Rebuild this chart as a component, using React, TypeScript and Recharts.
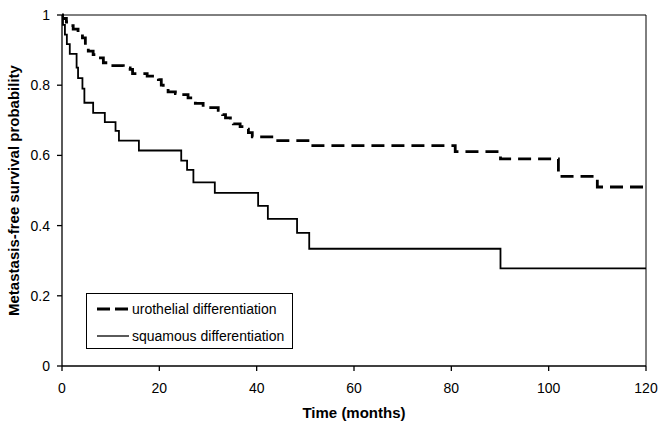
import { LineChart, Line, XAxis, YAxis, ReferenceLine, Legend } from 'recharts'

const FONT = '"Liberation Sans", Arial, sans-serif'

// Kaplan-Meier steps (months, survival)
const urothelialMonths = [
  0, 0.1, 0.9, 1.5, 2.3, 3.3, 4.2, 4.8, 5.4, 6.4,
  7.9, 8.5, 9.5, 12.6, 14.0, 14.5, 17.5, 19.8, 20.4, 20.8,
  21.8, 23.3, 24.3, 25.9, 26.8, 27.4, 29.0, 32.1, 33.0, 33.6,
  34.6, 35.2, 36.6, 37.7, 38.3, 39.1, 43.6, 51.0, 80.8, 90.1,
  102.0, 110.0, 120,
]
const urothelialSurvival = [
  1, 0.99, 0.98, 0.97, 0.96, 0.95, 0.935, 0.915, 0.897, 0.887,
  0.878, 0.864, 0.856, 0.849, 0.845, 0.833, 0.826, 0.816, 0.8, 0.79,
  0.781, 0.776, 0.773, 0.764, 0.755, 0.748, 0.736, 0.728, 0.716, 0.707,
  0.696, 0.69, 0.682, 0.675, 0.665, 0.653, 0.642, 0.628, 0.611, 0.59,
  0.54, 0.51, 0.51,
]

const squamousMonths = [
  0, 0.2, 0.6, 1.0, 1.6, 3.0, 3.3, 4.2, 4.6, 6.4,
  8.8, 11.0, 11.7, 15.8, 24.5, 25.7, 27.0, 31.4, 40.3, 42.3,
  48.3, 50.8, 90.1, 120,
]
const squamousSurvival = [
  1, 0.972, 0.944, 0.917, 0.889, 0.85, 0.82, 0.79, 0.75, 0.721,
  0.695, 0.67, 0.642, 0.614, 0.585, 0.559, 0.523, 0.493, 0.456, 0.419,
  0.379, 0.334, 0.278, 0.278,
]

const xTicks = [0, 20, 40, 60, 80, 100, 120]
const yTicks = [0, 0.2, 0.4, 0.6, 0.8, 1]

const urothelial = urothelialMonths.map((t, i) => ({ t, s: urothelialSurvival[i] }))
const squamous = squamousMonths.map((t, i) => ({ t, s: squamousSurvival[i] }))

const legendItems = [
  { name: 'urothelial differentiation', width: 3, dash: '13 5' },
  { name: 'squamous differentiation', width: 1.3, dash: undefined },
]

function KmLegend() {
  return (
    <div style={{
      width: 207, height: 56, border: '1px solid #000', background: '#fff',
      boxSizing: 'border-box', position: 'relative', fontFamily: FONT, fontSize: 14, color: '#000',
    }}>
      {legendItems.map((item, i) => (
        <div key={item.name} style={{ position: 'absolute', left: 10, top: 6 + i * 27, height: 18, display: 'flex', alignItems: 'center', whiteSpace: 'nowrap' }}>
          <svg width={32} height={18}>
            <line x1={0} x2={32} y1={9} y2={9} stroke="#000" strokeWidth={item.width} strokeDasharray={item.dash} />
          </svg>
          <span style={{ marginLeft: 3 }}>{item.name}</span>
        </div>
      ))}
    </div>
  )
}

export default function App() {
  const tick = { fill: '#000', fontSize: 14, fontFamily: FONT }
  return (
    <div style={{ position: 'absolute', left: 0, top: 0, background: '#fff' }}>
      <LineChart width={658} height={423} margin={{ top: 15, right: 12, bottom: 0, left: 0 }}>
        <XAxis
          type="number"
          dataKey="t"
          domain={[0, 120]}
          ticks={xTicks}
          allowDataOverflow
          height={57}
          tick={tick}
          tickSize={5}
          tickMargin={12}
          stroke="#000"
          strokeWidth={1.3}
          label={{ value: 'Time (months)', position: 'insideBottom', offset: 5, fill: '#000', fontSize: 15, fontWeight: 'bold', fontFamily: FONT }}
        />
        <YAxis
          type="number"
          domain={[0, 1]}
          ticks={yTicks}
          width={62}
          tick={tick}
          tickSize={5}
          tickMargin={7}
          stroke="#000"
          strokeWidth={1.3}
          label={{ value: 'Metastasis-free survival probability', angle: -90, position: 'insideLeft', offset: 14, fill: '#000', fontSize: 15, fontWeight: 'bold', fontFamily: FONT, style: { textAnchor: 'middle' } }}
        />
        <ReferenceLine y={1} stroke="#000" strokeWidth={1} />
        <ReferenceLine x={120} stroke="#000" strokeWidth={1} />
        <Line
          data={urothelial}
          dataKey="s"
          type="stepAfter"
          stroke="#000"
          strokeWidth={2.8}
          strokeDasharray="13 7"
          dot={false}
          activeDot={false}
          isAnimationActive={false}
        />
        <Line
          data={squamous}
          dataKey="s"
          type="stepAfter"
          stroke="#000"
          strokeWidth={1.8}
          dot={false}
          activeDot={false}
          isAnimationActive={false}
        />
        <Legend
          layout="vertical"
          align="center"
          verticalAlign="middle"
          content={() => <KmLegend />}
          wrapperStyle={{ left: 86, top: 293, width: 207, height: 56 }}
        />
      </LineChart>
    </div>
  )
}
